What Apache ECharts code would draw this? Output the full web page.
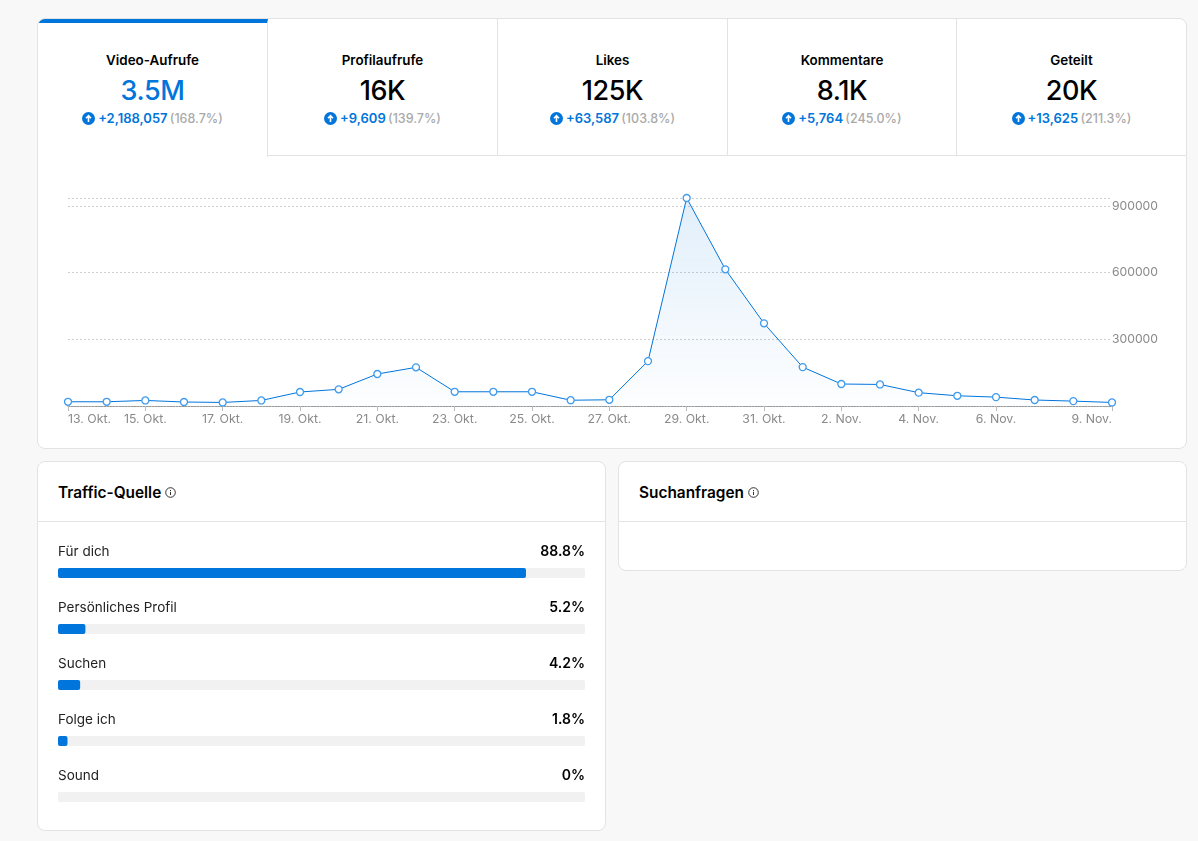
<!DOCTYPE html>
<html>
<head>
<meta charset="utf-8">
<title>Analyse</title>
<script src="https://cdn.jsdelivr.net/npm/echarts@6/dist/echarts.min.js"></script>
<style>
    html, body { margin: 0; padding: 0; background: #f8f8f8; font-family: Inter, "Noto Sans", sans-serif; color: #000; }
    #page { position: relative; width: 1198px; height: 841px; overflow: hidden; }
    .card { position: absolute; box-sizing: border-box; background: #fff; border: 1px solid #e3e3e3; border-radius: 8px; overflow: hidden; }
    .tab { position: absolute; top: 0; height: 137px; box-sizing: border-box; border-bottom: 1px solid #e3e3e3; border-right: 1px solid #e3e3e3; text-align: center; }
    .tab:last-child { border-right: 0; }
    .tab.active { border-bottom: 0; height: 138px; border-top: 4px solid #0075db; }
    .tab-name { position: absolute; left: 0; right: 0; top: 32px; line-height: 18px; font-size: 13.4px; font-weight: 600; }
    .tab-value { position: absolute; left: 0; right: 0; top: 55px; line-height: 34px; font-size: 27px; font-weight: 500; letter-spacing: -0.4px; }
    .tab.active .tab-name { top: 28px; }
    .tab.active .tab-value { top: 51px; color: #0075db; }
    .tab-delta { position: absolute; left: 0; right: 0; top: 90px; line-height: 18px; font-size: 13px; font-weight: 600; color: #0075db; white-space: nowrap; }
    .tab.active .tab-delta { top: 86px; }
    .tab-delta svg { vertical-align: -2px; margin-right: 3px; }
    .tab-delta span { color: #aaa; font-size: 12.5px; font-weight: 500; margin-left: -1px; }
    .head { position: absolute; left: 0; right: 0; top: 0; height: 59px; border-bottom: 1px solid #e3e3e3; }
    .head-title { position: absolute; left: 20px; top: 21px; line-height: 20px; font-size: 15.4px; font-weight: 600; white-space: nowrap; }
    .head-title svg { vertical-align: 0; margin-left: 0; }
    .plot { position: absolute; }
</style>
</head>
<body>
<div id="page">
    <div class="card" style="left:37px;top:18px;width:1150px;height:431px" id="tabs"></div>
    <div class="card" style="left:37px;top:461px;width:569px;height:370px">
        <div class="head"><div class="head-title" id="title-traffic"></div></div>
    </div>
    <div class="card" style="left:618px;top:461px;width:569px;height:110px">
        <div class="head"><div class="head-title" id="title-search"></div></div>
    </div>
    <div class="plot" id="views-chart" style="left:38px;top:156px;width:1148px;height:292px"></div>
    <div class="plot" id="traffic-chart" style="left:38px;top:530px;width:567px;height:295px"></div>
</div>
<script>
// Kennzahlen oben
var tabNames = ['Video-Aufrufe', 'Profilaufrufe', 'Likes', 'Kommentare', 'Geteilt'];
var tabValues = ['3.5M', '16K', '125K', '8.1K', '20K'];
var tabDeltas = ['+2,188,057', '+9,609', '+63,587', '+5,764', '+13,625'];
var tabPercents = ['(168.7%)', '(139.7%)', '(103.8%)', '(245.0%)', '(211.3%)'];
var tabEdges = [0, 230, 460, 690, 919, 1148];

// Video-Aufrufe pro Tag
var days = ['13. Okt.', '14. Okt.', '15. Okt.', '16. Okt.', '17. Okt.', '18. Okt.', '19. Okt.',
    '20. Okt.', '21. Okt.', '22. Okt.', '23. Okt.', '24. Okt.', '25. Okt.', '26. Okt.', '27. Okt.',
    '28. Okt.', '29. Okt.', '30. Okt.', '31. Okt.', '1. Nov.', '2. Nov.', '3. Nov.', '4. Nov.',
    '5. Nov.', '6. Nov.', '7. Nov.', '8. Nov.', '9. Nov.'];
var views = [19000, 19000, 25000, 18000, 16000, 25000, 63000, 75000, 144000, 174000, 64000, 64000,
    64000, 26000, 28000, 202000, 936000, 615000, 372000, 175000, 99000, 97000, 60000, 46000, 40000,
    27000, 22000, 16000];
var shownDays = ['13. Okt.', '15. Okt.', '17. Okt.', '19. Okt.', '21. Okt.', '23. Okt.', '25. Okt.',
    '27. Okt.', '29. Okt.', '31. Okt.', '2. Nov.', '4. Nov.', '6. Nov.', '9. Nov.'];

// Traffic-Quelle
var sources = ['Für dich', 'Persönliches Profil', 'Suchen', 'Folge ich', 'Sound'];
var shares = [88.8, 5.2, 4.2, 1.8, 0];
var shareLabels = ['88.8%', '5.2%', '4.2%', '1.8%', '0%'];

var blue = '#0075db';
var arrowIcon = '<svg width="13" height="13" viewBox="0 0 13 13"><circle cx="6.5" cy="6.5" r="6.5" fill="' + blue + '"/>' +
    '<path d="M6.5 10V4M4 6.2 6.5 3.6 9 6.2" stroke="#fff" stroke-width="1.6" fill="none"/></svg>';
var infoIcon = '<svg width="11" height="11" viewBox="0 0 11 11"><circle cx="5.5" cy="5.5" r="4.8" stroke="#333" fill="none"/>' +
    '<path d="M5.5 4.8V8M5.5 3V4" stroke="#333" fill="none"/></svg>';

var html = '';
for (var i = 0; i < tabNames.length; i++) {
    html += '<div class="tab' + (i === 0 ? ' active' : '') + '" style="left:' + tabEdges[i] + 'px;width:' + (tabEdges[i + 1] - tabEdges[i]) + 'px">' +
        '<div class="tab-name">' + tabNames[i] + '</div>' +
        '<div class="tab-value">' + tabValues[i] + '</div>' +
        '<div class="tab-delta">' + arrowIcon + tabDeltas[i] + ' <span>' + tabPercents[i] + '</span></div></div>';
}
document.getElementById('tabs').innerHTML = html;
document.getElementById('title-traffic').innerHTML = 'Traffic-Quelle ' + infoIcon;
document.getElementById('title-search').innerHTML = 'Suchanfragen ' + infoIcon;

function showDay(index) {
    return shownDays.indexOf(days[index]) !== -1;
}

var viewsChart = echarts.init(document.getElementById('views-chart'));
viewsChart.setOption({
    animation: false,
    grid: { left: 30, top: 42, width: 1044, height: 208 },
    xAxis: {
        type: 'category',
        data: days,
        boundaryGap: false,
        axisLine: { lineStyle: { color: '#999', type: [2, 1], width: 1 } },
        axisTick: { length: 5, interval: showDay, lineStyle: { color: '#bbb' } },
        axisLabel: {
            interval: showDay,
            color: '#8a8a8a',
            fontFamily: 'Inter',
            fontSize: 12.3,
            margin: 7,
            alignMinLabel: 'left',
            alignMaxLabel: 'right'
        }
    },
    yAxis: {
        type: 'value',
        position: 'right',
        min: 0,
        max: 936000,
        interval: 300000,
        axisLine: { show: false },
        axisTick: { show: false },
        splitLine: { lineStyle: { color: '#cfcfcf', type: [2, 2], width: 1 } },
        axisLabel: {
            showMaxLabel: false,
            showMinLabel: false,
            color: '#8a8a8a',
            fontFamily: 'Inter',
            fontSize: 12.2,
            margin: 0,
            formatter: function(value) { return String(value); }
        }
    },
    series: [{
        type: 'line',
        data: views,
        symbol: 'circle',
        symbolSize: 7,
        showAllSymbol: true,
        clip: false,
        lineStyle: { color: blue, width: 1 },
        itemStyle: { color: '#fff', borderColor: '#3f9bee', borderWidth: 1.3 },
        areaStyle: {
            color: new echarts.graphic.LinearGradient(0, 0, 0, 1, [
                { offset: 0, color: 'rgba(0,117,219,0.17)' },
                { offset: 1, color: 'rgba(0,117,219,0.01)' }
            ])
        }
    }]
});

var trafficChart = echarts.init(document.getElementById('traffic-chart'));
var nameLabel = { inside: true, fontFamily: 'Inter', fontSize: 13.5, verticalAlign: 'bottom', lineHeight: 18, padding: [0, 0, 12, 0], margin: 0 };
trafficChart.setOption({
    animation: false,
    grid: { left: 20, top: 15, width: 527, height: 280 },
    xAxis: { type: 'value', min: 0, max: 100, show: false },
    yAxis: [{
        type: 'category',
        inverse: true,
        data: sources,
        axisLine: { show: false },
        axisTick: { show: false },
        axisLabel: Object.assign({ color: '#222', align: 'left' }, nameLabel)
    }, {
        type: 'category',
        inverse: true,
        position: 'right',
        data: shareLabels,
        axisLine: { show: false },
        axisTick: { show: false },
        axisLabel: Object.assign({ color: '#000', align: 'right', fontWeight: 600 }, nameLabel, { fontSize: 14 })
    }],
    series: [{
        type: 'bar',
        data: shares,
        barWidth: 10,
        showBackground: true,
        backgroundStyle: { color: '#f1f1f1', borderRadius: 2 },
        itemStyle: { color: blue, borderRadius: 2 }
    }]
});

window.onresize = function() {
    viewsChart.resize();
    trafficChart.resize();
};
</script>
</body>
</html>
